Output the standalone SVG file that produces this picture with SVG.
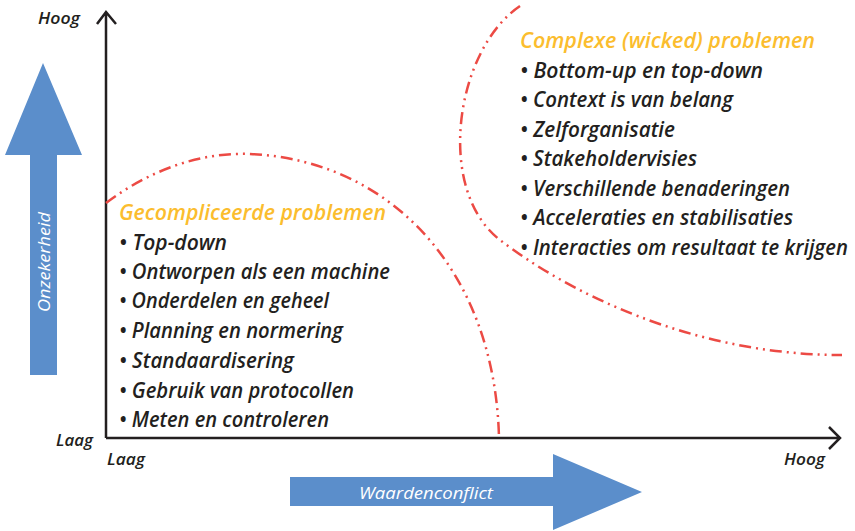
<svg xmlns="http://www.w3.org/2000/svg" width="855" height="531" viewBox="0 0 855 531">
  <style>
    .t { font-family: "Open Sans", "Liberation Sans", Arial, sans-serif; font-style: italic; fill: #231f20; }
    .item { font-size: 21.5px; font-weight: 600; }
    .title { font-size: 21px; fill: #fbbd2e; font-weight: 600; }
    .ax { font-size: 17px; font-weight: 600; }
    .wl { font-family: "Open Sans", "Liberation Sans", Arial, sans-serif; font-style: italic; fill: #ffffff; font-size: 17px; }
    .axis { stroke: #231f20; stroke-width: 2.5; fill: none; }
    .curve { stroke: #ec4a44; stroke-width: 2.5; fill: none; stroke-dasharray: 12 5 2 5 2 5; }
    .blue { fill: #5b8ecb; }
  </style>

  <g id="uncertainty-arrow">
    <polygon class="blue" points="43,63 82,155 57,155 57,375 30,375 30,155 5,155"/>
    <text class="wl" x="43" y="262" text-anchor="middle" dominant-baseline="central" transform="rotate(-90 43 262)" textLength="100" lengthAdjust="spacingAndGlyphs">Onzekerheid</text>
  </g>

  <g id="value-conflict-arrow">
    <polygon class="blue" points="290,477 553,477 553,454 642,492 553,530 553,506 290,506"/>
    <text class="wl" x="426" y="492" text-anchor="middle" dominant-baseline="central" textLength="134" lengthAdjust="spacingAndGlyphs">Waardenconflict</text>
  </g>

  <g id="connectors">
    <path class="axis" d="M106,438 V13 M97,24 L106,12 L116,24"/>
    <path class="axis" d="M106,438 H839 M829,427 L840,438 L829,449"/>
  </g>

  <g id="axis-labels">
    <text class="t ax" x="38" y="24" textLength="42" lengthAdjust="spacingAndGlyphs">Hoog</text>
    <text class="t ax" x="56" y="446" textLength="37" lengthAdjust="spacingAndGlyphs">Laag</text>
    <text class="t ax" x="107" y="465" textLength="38" lengthAdjust="spacingAndGlyphs">Laag</text>
    <text class="t ax" x="784" y="465" textLength="41" lengthAdjust="spacingAndGlyphs">Hoog</text>
  </g>

  <g id="boundaries">
    <path class="curve" d="M106,203 C150,170 200,152 250,154 C390,160 495,270 499,438"/>
    <path class="curve" d="M520,6 C455,50 435,190 500,240 C565,290 690,355 842,355"/>
  </g>

  <g id="complicated">
    <text class="t title" x="119" y="220" textLength="267" lengthAdjust="spacingAndGlyphs">Gecompliceerde problemen</text>
    <text class="t item" x="119" y="250" textLength="108" lengthAdjust="spacingAndGlyphs">• Top-down</text>
    <text class="t item" x="119" y="279" textLength="271" lengthAdjust="spacingAndGlyphs">• Ontworpen als een machine</text>
    <text class="t item" x="119" y="308" textLength="210" lengthAdjust="spacingAndGlyphs">• Onderdelen en geheel</text>
    <text class="t item" x="119" y="338" textLength="224" lengthAdjust="spacingAndGlyphs">• Planning en normering</text>
    <text class="t item" x="119" y="368" textLength="175" lengthAdjust="spacingAndGlyphs">• Standaardisering</text>
    <text class="t item" x="119" y="398" textLength="235" lengthAdjust="spacingAndGlyphs">• Gebruik van protocollen</text>
    <text class="t item" x="119" y="427" textLength="210" lengthAdjust="spacingAndGlyphs">• Meten en controleren</text>
  </g>

  <g id="complex">
    <text class="t title" x="520" y="48" textLength="295" lengthAdjust="spacingAndGlyphs">Complexe (wicked) problemen</text>
    <text class="t item" x="520" y="78" textLength="243" lengthAdjust="spacingAndGlyphs">• Bottom-up en top-down</text>
    <text class="t item" x="520" y="107" textLength="213" lengthAdjust="spacingAndGlyphs">• Context is van belang</text>
    <text class="t item" x="520" y="137" textLength="155" lengthAdjust="spacingAndGlyphs">• Zelforganisatie</text>
    <text class="t item" x="520" y="166" textLength="177" lengthAdjust="spacingAndGlyphs">• Stakeholdervisies</text>
    <text class="t item" x="520" y="196" textLength="270" lengthAdjust="spacingAndGlyphs">• Verschillende benaderingen</text>
    <text class="t item" x="520" y="225" textLength="273" lengthAdjust="spacingAndGlyphs">• Acceleraties en stabilisaties</text>
    <text class="t item" x="520" y="255" textLength="328" lengthAdjust="spacingAndGlyphs">• Interacties om resultaat te krijgen</text>
  </g>
</svg>
